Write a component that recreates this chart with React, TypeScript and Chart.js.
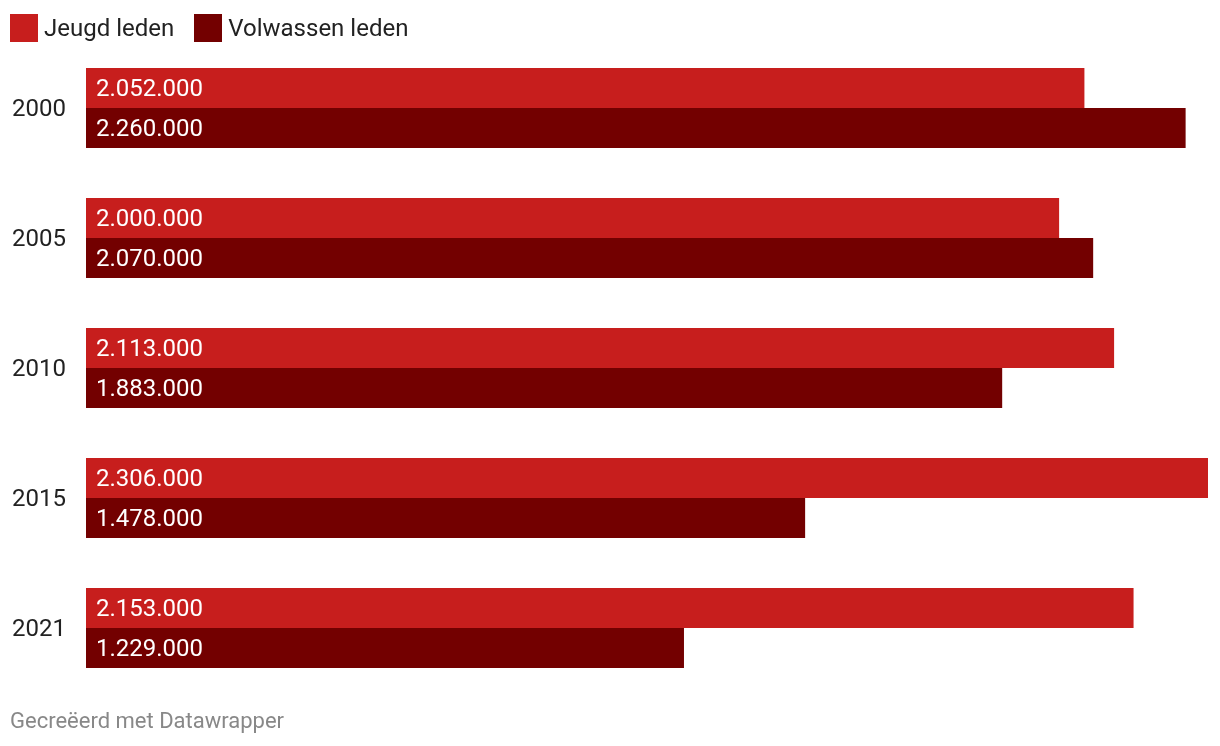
import React, { useEffect, useRef } from "react";
import { Chart, registerables } from "chart.js";

Chart.register(...registerables);

const years = ["2000", "2005", "2010", "2015", "2021"];
const jeugdLeden = [2052000, 2000000, 2113000, 2306000, 2153000];
const volwassenLeden = [2260000, 2070000, 1883000, 1478000, 1229000];
const seriesNames = ["Jeugd leden", "Volwassen leden"];
const seriesColors = ["#c71e1d", "#730000"];
const footerText = "Gecreëerd met Datawrapper";

const FONT = "Roboto, 'Noto Sans', sans-serif";

const fmt = (v: number) =>
  Math.round(v)
    .toString()
    .replace(/\B(?=(\d{3})+(?!\d))/g, ".");

const valueLabels = {
  id: "valueLabels",
  afterDatasetsDraw(chart: any) {
    const ctx = chart.ctx;
    ctx.save();
    ctx.font = `24px ${FONT}`;
    ctx.fillStyle = "#ffffff";
    ctx.textAlign = "left";
    ctx.textBaseline = "middle";
    chart.data.datasets.forEach((ds: any, di: number) => {
      const meta = chart.getDatasetMeta(di);
      meta.data.forEach((bar: any, i: number) => {
        const base = bar.base;
        ctx.fillText(fmt(ds.data[i]), base + 10, bar.y + 2);
      });
    });
    ctx.restore();
  },
};

export default function App() {
  const ref = useRef<HTMLCanvasElement | null>(null);

  useEffect(() => {
    document.body.style.margin = "0";
    const canvas = ref.current;
    if (!canvas) return;
    const chart = new Chart(canvas, {
      type: "bar",
      data: {
        labels: years,
        datasets: [
          {
            label: seriesNames[0],
            data: jeugdLeden,
            backgroundColor: seriesColors[0],
            categoryPercentage: 80 / 130,
            barPercentage: 1,
          },
          {
            label: seriesNames[1],
            data: volwassenLeden,
            backgroundColor: seriesColors[1],
            categoryPercentage: 80 / 130,
            barPercentage: 1,
          },
        ],
      },
      options: {
        indexAxis: "y",
        responsive: false,
        animation: false,
        layout: { padding: { left: 0, right: 12, top: 43, bottom: 53 } },
        plugins: {
          legend: { display: false },
          tooltip: { enabled: false },
        },
        scales: {
          x: {
            display: false,
            min: 0,
            max: 2306000,
          },
          y: {
            grid: { display: false, drawTicks: false },
            border: { display: false },
            ticks: {
              padding: 20,
              labelOffset: 2,
              color: "#222222",
              font: { family: FONT, size: 24 },
            },
            afterFit: (scale: any) => {
              scale.width = 86;
            },
          },
        },
      },
      plugins: [valueLabels],
    });
    return () => chart.destroy();
  }, []);

  return (
    <div
      style={{
        position: "relative",
        width: 1220,
        height: 746,
        background: "#fff",
        fontFamily: FONT,
        overflow: "hidden",
      }}
    >
      <canvas
        ref={ref}
        width={1220}
        height={746}
        style={{ position: "absolute", left: 0, top: 0, width: 1220, height: 746 }}
      />
      <div
        style={{
          position: "absolute",
          left: 10,
          top: 14,
          display: "flex",
          alignItems: "center",
          height: 28,
          fontSize: 24,
          color: "#222222",
        }}
      >
        {seriesNames.map((n, i) => (
          <div key={n} style={{ display: "flex", alignItems: "center", marginRight: 20 }}>
            <span
              style={{
                display: "inline-block",
                width: 28,
                height: 28,
                background: seriesColors[i],
                marginRight: 6,
              }}
            />
            <span style={{ lineHeight: "28px" }}>{n}</span>
          </div>
        ))}
      </div>
      <div
        style={{
          position: "absolute",
          left: 10,
          top: 709,
          fontSize: 22,
          lineHeight: "24px",
          color: "#888888",
        }}
      >
        {footerText}
      </div>
    </div>
  );
}
